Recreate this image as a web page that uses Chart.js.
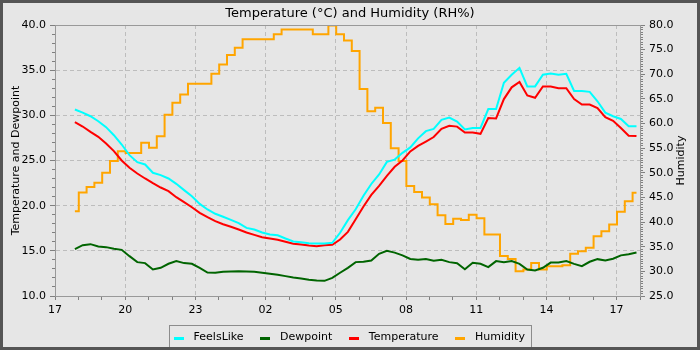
<!DOCTYPE html>
<html>
<head>
<meta charset="utf-8">
<script src="https://cdn.jsdelivr.net/npm/chart.js@4/dist/chart.umd.min.js"></script>
<style>
html,body{margin:0;padding:0;background:#e6e6e6;}
#wrap{width:700px;height:350px;position:relative;}
canvas{display:block;}
</style>
</head>
<body>
<div id="wrap"><canvas id="c" width="700" height="350"></canvas></div>
<script>
// ---- data ----
const chartTitle = 'Temperature (°C) and Humidity (RH%)';
const leftAxisTitle = 'Temperature and Dewpoint';
const rightAxisTitle = 'Humidity';
const seriesNames = ['FeelsLike', 'Dewpoint', 'Temperature', 'Humidity'];
const xTickLabels = ['17', '20', '23', '02', '05', '08', '11', '14', '17'];

const times = [
 '17:51','18:11','18:31','18:51','19:11','19:31','19:51','20:11','20:31','20:51',
 '21:11','21:31','21:51','22:11','22:31','22:51','23:11','23:31','23:51','00:11',
 '00:31','00:51','01:11','01:31','01:51','02:11','02:31','02:51','03:11','03:31',
 '03:51','04:11','04:31','04:51','05:11','05:31','05:51','06:11','06:31','06:51',
 '07:11','07:31','07:51','08:11','08:31','08:51','09:11','09:31','09:51','10:11',
 '10:31','10:51','11:11','11:31','11:51','12:11','12:31','12:51','13:11','13:31',
 '13:51','14:11','14:31','14:51','15:11','15:31','15:51','16:11','16:31','16:51',
 '17:11','17:31','17:51'
];

const feelsLike = [
 30.65,30.3,29.9,29.35,28.69,27.8,26.77,25.59,24.82,24.56,
 23.64,23.38,23.01,22.42,21.72,21.05,20.2,19.58,19.1,18.77,
 18.43,18.06,17.54,17.36,17.03,16.81,16.73,16.37,16.04,15.96,
 15.85,15.81,15.81,15.89,17.0,18.4,19.6,21.1,22.4,23.45,
 24.85,25.1,25.85,26.45,27.45,28.25,28.5,29.5,29.75,29.3,
 28.43,28.6,28.6,30.7,30.7,33.6,34.5,35.26,33.2,33.2,
 34.5,34.63,34.5,34.6,32.7,32.7,32.6,31.56,30.3,29.9,
 29.6,28.8,28.8
];

const dewpoint = [
 15.2,15.63,15.74,15.48,15.41,15.22,15.11,14.41,13.75,13.64,
 12.94,13.12,13.57,13.86,13.64,13.57,13.12,12.6,12.57,12.68,
 12.71,12.75,12.71,12.68,12.57,12.46,12.35,12.2,12.05,11.94,
 11.79,11.72,11.68,12.01,12.57,13.12,13.75,13.79,13.93,14.67,
 15.0,14.8,14.5,14.1,14.0,14.1,13.9,14.0,13.75,13.63,
 12.97,13.67,13.56,13.2,13.86,13.75,13.86,13.56,12.94,12.82,
 13.12,13.7,13.71,13.86,13.56,13.3,13.79,14.08,13.93,14.12,
 14.5,14.63,14.82
];

const temperature = [
 29.24,28.76,28.17,27.62,26.88,26.04,25.0,24.2,23.56,23.01,
 22.49,22.01,21.61,20.94,20.39,19.83,19.21,18.73,18.28,17.95,
 17.66,17.36,17.03,16.77,16.51,16.37,16.22,16.0,15.78,15.7,
 15.59,15.52,15.63,15.66,16.25,17.1,18.5,19.9,21.2,22.2,
 23.3,24.3,25.0,26.0,26.62,27.1,27.6,28.5,28.85,28.75,
 28.1,28.1,27.95,29.7,29.65,31.8,33.1,33.7,32.2,31.95,
 33.2,33.2,33.0,33.0,31.8,31.2,31.2,30.8,29.8,29.4,
 28.6,27.75,27.7
];

const humidity = [
 42.2,46.0,47.1,48.0,50.0,52.4,54.4,54.0,54.0,56.1,
 55.1,57.4,61.8,64.2,65.9,68.1,68.1,68.1,70.1,72.0,
 73.9,75.4,77.1,77.1,77.1,77.1,78.1,79.1,79.1,79.1,
 79.1,78.1,78.1,79.9,78.1,76.85,74.7,67.0,62.5,63.2,
 60.1,55.0,52.4,47.3,46.1,45.0,43.6,41.4,39.6,40.7,
 40.4,41.5,40.8,37.5,37.5,33.1,32.5,30.0,30.4,31.7,
 30.4,31.05,31.05,31.26,33.55,34.1,34.78,37.14,38.15,39.51,
 42.08,44.24,45.93
];

const seriesColors = ['#00ffff', '#006400', '#ff0000', '#ffa500'];

// ---- convert clock times to hours since 17:00 (0 .. 25) ----
const xHours = [];
(function () {
  let dayOffset = 0, prev = -1;
  for (const t of times) {
    const [h, m] = t.split(':').map(Number);
    let v = h + m / 60 + dayOffset;
    if (v < prev) { dayOffset += 24; v += 24; }
    prev = v;
    xHours.push(v - 17);
  }
})();
const pts = arr => arr.map((v, i) => ({ x: xHours[i], y: v }));

function swatch(color) {
  const c = document.createElement('canvas');
  c.width = 10; c.height = 8;
  const g = c.getContext('2d');
  g.fillStyle = color; g.fillRect(0, 4, 10, 3);
  return c;
}

const FONT = 'DejaVu Sans';
Chart.defaults.font.family = FONT;
Chart.defaults.font.size = 11;
Chart.defaults.color = '#000';

const GRID = '#bdbdbd';
const AXIS = '#999999';
const TICK = '#7f7f7f';

const decor = {
  id: 'decor',
  beforeDraw(chart) {
    const ctx = chart.ctx;
    ctx.save();
    ctx.fillStyle = '#e6e6e6';
    ctx.fillRect(0, 0, chart.width, chart.height);
    ctx.restore();
  },
  afterLayout(chart) {
    const lg = chart.legend;
    if (lg) { lg.left -= 3; lg.right -= 3; }
  },
  afterDraw(chart) {
    const ctx = chart.ctx, a = chart.chartArea;
    ctx.save();
    // plot outline (top edge)
    ctx.strokeStyle = AXIS;
    ctx.lineWidth = 1;
    ctx.beginPath();
    ctx.moveTo(a.left, Math.round(a.top) + 0.5);
    ctx.lineTo(a.right + 1, Math.round(a.top) + 0.5);
    ctx.stroke();
    // right axis title (reads bottom-to-top)
    const ys = chart.scales.y1;
    ctx.fillStyle = '#000';
    ctx.font = '11px "' + FONT + '"';
    ctx.textAlign = 'center';
    ctx.textBaseline = 'middle';
    ctx.save();
    ctx.translate(ys.right - 19.2, (a.top + a.bottom) / 2);
    ctx.rotate(-Math.PI / 2);
    ctx.fillText(rightAxisTitle, 0, 0);
    ctx.restore();
    // legend frame
    const lg = chart.legend;
    const hb = lg.legendHitBoxes;
    if (hb && hb.length) {
      const last = hb[hb.length - 1];
      const l = Math.round(hb[0].left - 0.5) + 0.5;
      const r = Math.round(last.left + last.width + 6) + 0.5;
      const t = 325.5;
      ctx.strokeStyle = '#8c8c8c';
      ctx.lineWidth = 1;
      ctx.strokeRect(l, t, r - l, 30);
    }
    // outer frame
    ctx.strokeStyle = '#555555';
    ctx.lineWidth = 3;
    ctx.strokeRect(1.5, 1.5, chart.width - 3, chart.height - 3);
    ctx.restore();
  }
};

const ctx = document.getElementById('c').getContext('2d');
new Chart(ctx, {
  type: 'line',
  data: {
    datasets: [
      { label: seriesNames[0], data: pts(feelsLike), borderColor: seriesColors[0], backgroundColor: seriesColors[0], yAxisID: 'y', xAxisID: 'x' },
      { label: seriesNames[1], data: pts(dewpoint), borderColor: seriesColors[1], backgroundColor: seriesColors[1], yAxisID: 'y', xAxisID: 'x' },
      { label: seriesNames[2], data: pts(temperature), borderColor: seriesColors[2], backgroundColor: seriesColors[2], yAxisID: 'y', xAxisID: 'x' },
      { label: seriesNames[3], data: pts(humidity), borderColor: seriesColors[3], backgroundColor: seriesColors[3], yAxisID: 'y1', xAxisID: 'x', stepped: 'middle' }
    ]
  },
  options: {
    responsive: false,
    animation: false,
    devicePixelRatio: 1,
    layout: { padding: 0 },
    elements: {
      line: { borderWidth: 2, tension: 0 },
      point: { radius: 0, hoverRadius: 0 }
    },
    plugins: {
      tooltip: { enabled: false },
      title: {
        display: true,
        text: chartTitle,
        color: '#000',
        font: { family: FONT, size: 13, weight: 'normal' },
        padding: { top: 6, bottom: 3.4 }
      },
      legend: {
        position: 'bottom',
        maxHeight: 30.5,
        labels: {
          color: '#000',
          font: { family: FONT, size: 11 },
          usePointStyle: true,
          pointStyleWidth: 19,
          boxHeight: 11,
          padding: 12,
          generateLabels(chart) {
            const items = Chart.defaults.plugins.legend.labels.generateLabels(chart);
            items.forEach(it => { it.pointStyle = swatch(seriesColors[it.datasetIndex]); });
            return items;
          }
        }
      }
    },
    scales: {
      x: {
        type: 'linear',
        position: 'bottom',
        weight: 1,
        min: 0,
        max: 25,
        afterFit(s) { s.height = 23.5; },
        ticks: {
          stepSize: 3,
          includeBounds: false,
          autoSkip: false,
          maxRotation: 0,
          padding: 4,
          color: '#000',
          callback(v) { return xTickLabels[Math.round(v / 3)]; }
        },
        grid: { color: GRID, tickColor: TICK, tickLength: 4, lineWidth: 1 },
        border: { color: AXIS, dash: [4, 3] }
      },
      xMinor: {
        type: 'linear',
        position: 'bottom',
        weight: 0,
        min: 0,
        max: 25,
        afterFit(s) { s.height = 0; },
        ticks: { display: false, stepSize: 1 },
        grid: { drawOnChartArea: false, color: TICK, tickColor: TICK, tickLength: 4 },
        border: { display: false }
      },
      y: {
        type: 'linear',
        position: 'left',
        weight: 1,
        min: 10,
        max: 40,
        afterFit(s) { s.width = 55; },
        title: {
          display: true,
          text: leftAxisTitle,
          color: '#000',
          font: { family: FONT, size: 11 },
          padding: { top: 9.2, bottom: 0 }
        },
        ticks: {
          stepSize: 5,
          padding: 4,
          color: '#000',
          callback(v) { return Number(v).toFixed(1); }
        },
        grid: { color: GRID, tickColor: TICK, tickLength: 5, lineWidth: 1 },
        border: { color: AXIS, dash: [4, 3] }
      },
      yMinor: {
        type: 'linear',
        position: 'left',
        weight: 0,
        min: 10,
        max: 40,
        afterFit(s) { s.width = 0; },
        ticks: { display: false, stepSize: 1 },
        grid: { drawOnChartArea: false, color: TICK, tickColor: TICK, tickLength: 3 },
        border: { display: false }
      },
      y1: {
        type: 'linear',
        position: 'right',
        weight: 1,
        min: 25,
        max: 80,
        afterFit(s) { s.width = 60; },
        ticks: {
          stepSize: 5,
          padding: 4,
          color: '#000',
          callback(v) { return Number(v).toFixed(1); }
        },
        grid: { drawOnChartArea: false, color: TICK, tickColor: TICK, tickLength: 5 },
        border: { color: AXIS }
      },
      y1Minor: {
        type: 'linear',
        position: 'right',
        weight: 0,
        min: 25,
        max: 80,
        afterFit(s) { s.width = 0; },
        ticks: { display: false, stepSize: 0.5 },
        grid: { drawOnChartArea: false, color: TICK, tickColor: TICK, tickLength: 3 },
        border: { display: false }
      }
    }
  },
  plugins: [decor]
});
</script>
</body>
</html>
